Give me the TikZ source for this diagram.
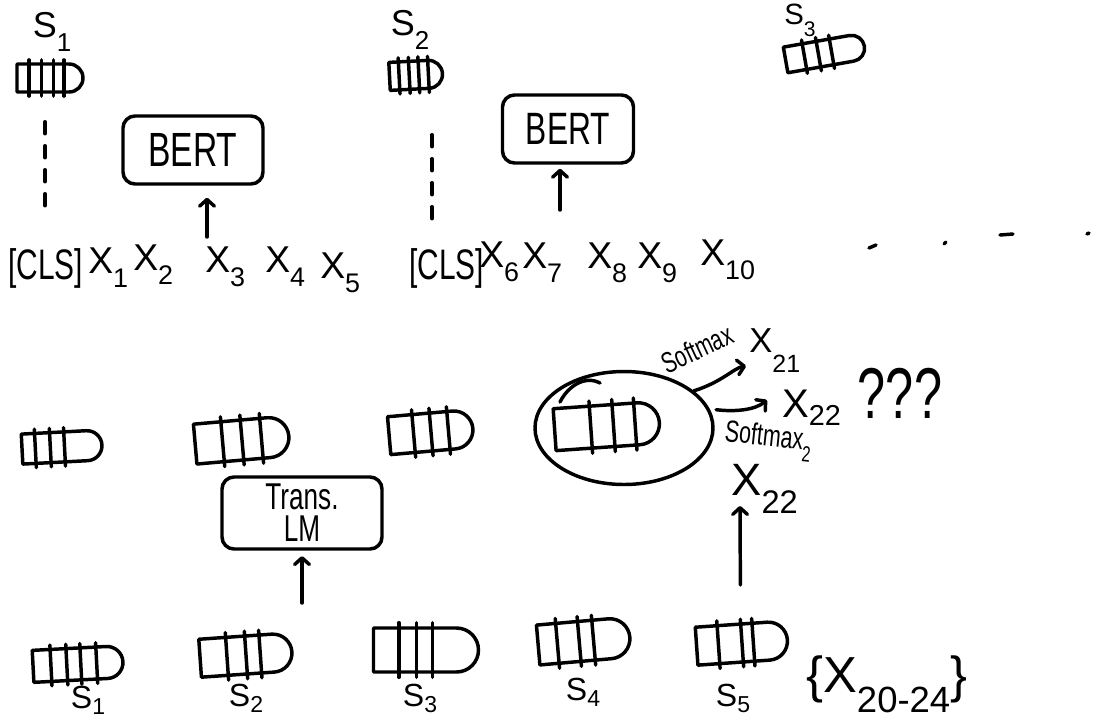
\documentclass[tikz,border=0pt]{standalone}
\usepackage{fontspec}
\setmainfont{Liberation Sans}
\newfontfamily\hand[FakeStretch=0.7]{Liberation Sans}
\usetikzlibrary{shapes.misc,shapes.geometric,arrows.meta,calc}
\newcommand\sub[1]{\raisebox{-0.4em}{\scalebox{0.72}{#1}}}
\newcommand\lsub[2]{\raisebox{#1}{\scalebox{0.72}{#2}}}
\tikzset{
  ink/.style={line width=2.6pt, line cap=round, line join=round},
  vecshape/.style={ink, draw, rounded rectangle, rounded rectangle left arc=none, inner sep=0pt},
  lab/.style={inner sep=0pt, font=\fontsize{27}{27}\selectfont},
  blab/.style={inner sep=0pt, anchor=base, font=\fontsize{24}{24}\selectfont},
  tok/.style={inner sep=0pt, anchor=base west, font=\fontsize{28}{28}\selectfont},
  cls/.style={inner sep=0pt, anchor=base west, font=\hand\fontsize{32}{32}\selectfont},
  boxed/.style={ink, draw, rounded corners=9pt, inner sep=1pt, font=\hand\fontsize{36}{36}\selectfont},
  arr/.style={ink, -{Straight Barb[length=5pt,width=11pt,round]}},
  dotline/.style={ink, dash pattern=on 9pt off 9pt},
}
% name, x, y, width(px), height(px), rotation, divider fractions
\newcommand\handvec[7]{%
  \node[vecshape, minimum width=#4*0.75pt, minimum height=#5*0.75pt, rotate=#6] (#1) at (#2,#3) {};
  \foreach \t in {#7}{
    \draw[ink] ($(#1.west)!\t!(#1.east)+1.15*(#1.north)-1.15*(#1.center)$) --
               ($(#1.west)!\t!(#1.east)-1.15*(#1.north)+1.15*(#1.center)$);
  }%
}
\begin{document}
\begin{tikzpicture}[x=0.75pt,y=-0.75pt]
\fill[white] (0,0) rectangle (1093,719);
\useasboundingbox (0,0) rectangle (1093,719);

% ---------- top part ----------
\node[lab] (lS1) at (52,32) {S\sub{1}};
\node[lab] (lS2) at (410,30) {S\sub{2}};
\node[lab, font=\fontsize{22}{22}\selectfont] (lS3) at (800,20) {S\sub{3}};

\handvec{tv1}{50}{78}{66}{28}{0}{0.2,0.38,0.55,0.7}
\handvec{tv2}{416}{75}{53}{28}{3}{0.2,0.38,0.55,0.72}
\handvec{tv3}{825}{53}{80}{26}{10}{0.25,0.42,0.58}

\node[boxed, minimum width=140*0.75pt, minimum height=68*0.75pt] (bert1) at (193,150) {BERT};
\node[boxed, minimum width=131*0.75pt, minimum height=68*0.75pt, font=\hand\fontsize{34}{34}\selectfont] (bert2) at (568,129) {BERT};

% token row 1
\node[cls] (cls1) at (8,279) {[CLS]};
\node[tok] (x1) at (88,273) {X\sub{1}};
\node[tok] (x2) at (133,270) {X\sub{2}};
\node[tok] (x3) at (205,272) {X\sub{3}};
\node[tok] (x4) at (265,272) {X\sub{4}};
\node[tok] (x5) at (320,278) {X\sub{5}};
% token row 2
\node[cls] (cls2) at (409,279) {[CLS]};
\node[tok] (x6) at (479,267) {X\sub{6}};
\node[tok] (x7) at (522,268) {X\sub{7}};
\node[tok] (x8) at (587,268) {X\sub{8}};
\node[tok] (x9) at (637,268) {X\sub{9}};
\node[tok] (x10) at (700,265) {X\sub{10}};

% dotted links
\coordinate (dx1) at (45,0);
\coordinate (dx2) at (432,0);
\draw[dotline] ($(tv1.south -| dx1)+(0,28)$) -- ($(cls1.north -| dx1)+(0,-38)$);
\draw[dotline] ($(tv2.south -| dx2)+(0,44)$) -- ($(cls2.north -| dx2)+(0,-20)$);

% arrows into BERT
\coordinate (a1) at (207,237);
\coordinate (a2) at (560,210);
\draw[arr, shorten >=9pt] (a1) -- (a1 |- bert1.south);
\draw[arr, shorten >=3pt] (a2) -- (a2 |- bert2.south);

% trailing dots
\draw[ink] (869,248) -- (876,245);
\draw[ink] (944,244) -- (946,242);
\draw[ink] (1000,235) -- (1013,234);
\draw[ink] (1087,234) -- (1089,233);

% ---------- middle part ----------
\handvec{mv1}{62}{447}{80}{30}{3}{0.18,0.36,0.53}
\handvec{mv2}{242}{440}{94}{40}{5}{0.3,0.5,0.7}
\handvec{mv3}{431}{432}{84}{38}{5}{0.3,0.5,0.7}
\handvec{mv4}{607}{426}{105}{42}{4}{0.35,0.56,0.76}
\node[ink, draw, ellipse, minimum width=178*0.75pt, minimum height=113*0.75pt] (ell) at (624,428) {};
\draw[ink] (560,402) .. controls (568,386) and (585,375) .. (600,383);

\node[inner sep=0pt, font=\hand\fontsize{22}{22}\selectfont, rotate=25] (sm1) at (697,349) {Softmax};
\node[tok, font=\fontsize{26}{26}\selectfont] (x21) at (749,352) {X\lsub{-0.6em}{21}};
\node[tok, font=\fontsize{30}{30}\selectfont] (x22r) at (782,417) {X\lsub{-0.2em}{22}};
\node[inner sep=0pt, font=\hand\fontsize{54}{54}\selectfont] (q) at (900,393) {???};
\node[inner sep=0pt, font=\hand\fontsize{23}{23}\selectfont, rotate=-6] (sm2) at (768,441) {Softmax\lsub{-0.4em}{2}};
\node[tok, font=\fontsize{34}{34}\selectfont] (x22b) at (731,495) {X\lsub{-0.4em}{22}};

\coordinate (t1) at (746,366);
\coordinate (t2) at (767,400);
\draw[arr] (ell.28) .. controls (722,382) and (734,368) .. (t1);
\draw[arr] ($(ell.12)+(6,0)$) .. controls (735,412) and (755,410) .. (t2);

\node[boxed, minimum width=160*0.75pt, minimum height=72*0.75pt, align=center, font=\hand\fontsize{28}{24}\selectfont] (tlm) at (302,513) {Trans.\\LM};

% ---------- bottom part ----------
\handvec{b1}{78}{664}{90}{32}{3}{0.21,0.38,0.53,0.7}
\handvec{b2}{246}{655}{92}{38}{4}{0.3,0.5,0.65}
\handvec{b3}{426}{650}{105}{44}{0}{0.25,0.41,0.56}
\handvec{b4}{584}{641}{92}{40}{5}{0.22,0.45,0.6}
\handvec{b5}{742}{643}{91}{38}{4}{0.25,0.5,0.62}

\node[blab] (lb1) at (88,708) {S\lsub{-0.2em}{1}};
\node[blab] (lb2) at (246,706) {S\lsub{-0.2em}{2}};
\node[blab] (lb3) at (420,706) {S\lsub{-0.2em}{3}};
\node[blab] (lb4) at (583,700) {S\lsub{-0.2em}{4}};
\node[blab] (lb5) at (733,706) {S\lsub{-0.2em}{5}};
\node[tok, font=\fontsize{38}{38}\selectfont] (xs) at (806,692) {\{X\lsub{-0.4em}{20-24}\}};

\coordinate (ta) at (302,603);
\coordinate (tip3) at (740,506);
\draw[arr, shorten >=4pt] (ta) -- (ta |- tlm.south);
\draw[arr, shorten <=28pt] (b5.north) -- (tip3);
\end{tikzpicture}
\end{document}
